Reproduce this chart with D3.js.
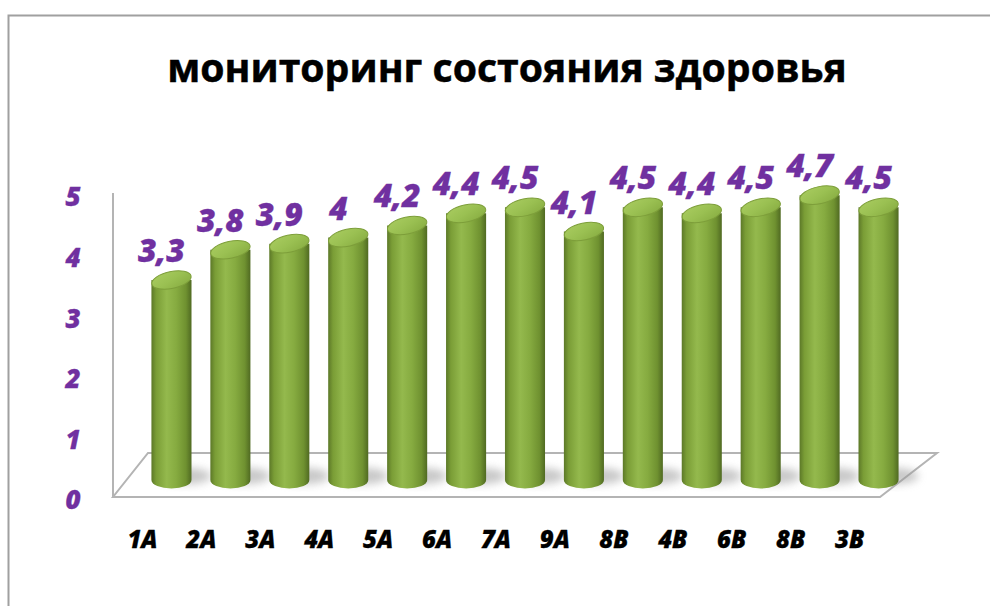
<!DOCTYPE html>
<html>
<head>
<meta charset="utf-8">
<script src="https://cdn.jsdelivr.net/npm/d3@7"></script>
<style>
  body { margin: 0; background: #fff; }
  text { font-family: "Open Sans", sans-serif; }
</style>
</head>
<body>
<div class="chart"></div>
<script>
const categories = ["1А", "2А", "3А", "4А", "5А", "6А", "7А", "9А", "8В", "4В", "6В", "8В", "3В"];
const values = [3.3, 3.8, 3.9, 4, 4.2, 4.4, 4.5, 4.1, 4.5, 4.4, 4.5, 4.7, 4.5];
const yTicks = [0, 1, 2, 3, 4, 5];
const titleText = "мониторинг состояния здоровья";

const width = 990, height = 606;
const purple = "#7030a0";

const svg = d3.select(".chart").append("svg")
    .attr("width", width)
    .attr("height", height);

const defs = svg.append("defs");

const body = defs.append("linearGradient").attr("id", "cyl").attr("x1", 0).attr("x2", 1).attr("y1", 0).attr("y2", 0);
[[0, "#5c7828"], [0.12, "#7a9d36"], [0.38, "#94b94d"], [0.62, "#86ab40"], [0.86, "#6f9130"], [1, "#506a22"]]
    .forEach(([o, c]) => body.append("stop").attr("offset", o).attr("stop-color", c));

const cap = defs.append("linearGradient").attr("id", "cap").attr("x1", 0).attr("x2", 1).attr("y1", 0).attr("y2", 1);
[[0, "#a9cc60"], [0.5, "#9ac052"], [1, "#86ab40"]]
    .forEach(([o, c]) => cap.append("stop").attr("offset", o).attr("stop-color", c));

defs.append("filter").attr("id", "blur").attr("x", "-50%").attr("y", "-50%").attr("width", "200%").attr("height", "200%")
    .append("feGaussianBlur").attr("stdDeviation", 4);

// outer border
svg.append("path")
    .attr("d", "M8.5,610 V15.5 H995")
    .attr("fill", "none")
    .attr("stroke", "#a0a0a0")
    .attr("stroke-width", 2);

// title
const title = svg.append("text")
    .attr("x", 507)
    .attr("y", 82)
    .attr("text-anchor", "middle")
    .attr("font-weight", 700)
    .attr("font-size", 36)
    .attr("fill", "#000")
    .attr("stroke", "#000")
    .attr("stroke-width", 0.5)
    .text(titleText);
const tl = title.node().getComputedTextLength();
title.attr("font-size", 36 * 680 / tl);

// index based band scale (category names repeat: 8В twice)
const xScale = d3.scaleBand()
    .domain(d3.range(categories.length))
    .range([142, 908])
    .paddingInner(0.32)
    .paddingOuter(0.16);

// front plane scale (tick labels)
const yScale = d3.scaleLinear()
    .domain([0, 5])
    .range([500, 197]);

const depthY = -20;
const labelDx = -29;

// floor
svg.append("path")
    .attr("d", "M113,497 L880,497 L937,453 L148,453 Z")
    .attr("fill", "#fff")
    .attr("stroke", "#b4b4b4")
    .attr("stroke-width", 2);

// left axis line
svg.append("line")
    .attr("x1", 113).attr("x2", 113)
    .attr("y1", 193).attr("y2", 497)
    .attr("stroke", "#b4b4b4")
    .attr("stroke-width", 2);

// y tick labels
svg.append("g")
    .selectAll("text")
    .data(yTicks)
    .join("text")
    .attr("x", 73)
    .attr("y", d => yScale(d))
    .attr("dy", "0.36em")
    .attr("text-anchor", "middle")
    .attr("font-weight", 800)
    .attr("font-style", "italic")
    .attr("font-size", 26)
    .attr("fill", purple)
    .attr("stroke", purple)
    .attr("stroke-width", 0.3)
    .text(d => d);

const bw = xScale.bandwidth();
const rx = bw / 2, ry = 8.5, tilt = -12;
const baseY = yScale(0) + depthY;

const bars = svg.append("g")
    .selectAll("g")
    .data(values)
    .join("g")
    .attr("transform", (d, i) => `translate(${xScale(i) + bw / 2},0)`);

// shadow on floor
bars.append("ellipse")
    .attr("cx", 14)
    .attr("cy", baseY - 4)
    .attr("rx", rx + 6)
    .attr("ry", 8)
    .attr("fill", "#9a9a9a")
    .attr("opacity", 0.55)
    .attr("filter", "url(#blur)");

bars.append("path")
    .attr("d", d => {
        const top = yScale(d) + depthY;
        return `M${-rx},${top} L${-rx},${baseY} A${rx},${ry} 0 0 0 ${rx},${baseY} L${rx},${top} Z`;
    })
    .attr("fill", "url(#cyl)");

bars.append("ellipse")
    .attr("cx", 0)
    .attr("cy", 0)
    .attr("rx", rx)
    .attr("ry", ry)
    .attr("transform", d => `translate(0,${yScale(d) + depthY}) rotate(${tilt})`)
    .attr("fill", "url(#cap)")
    .attr("stroke", "#7d9e3a")
    .attr("stroke-width", 1);

// value labels
bars.append("text")
    .attr("x", -10)
    .attr("y", d => yScale(d) + depthY - 18)
    .attr("text-anchor", "middle")
    .attr("font-weight", 800)
    .attr("font-style", "italic")
    .attr("font-size", 32)
    .attr("fill", purple)
    .attr("stroke", purple)
    .attr("stroke-width", 0.3)
    .text(d => String(d).replace(".", ","));

// category labels
svg.append("g")
    .selectAll("text")
    .data(categories)
    .join("text")
    .attr("x", (d, i) => xScale(i) + bw / 2 + labelDx)
    .attr("y", 548)
    .attr("text-anchor", "middle")
    .attr("font-weight", 800)
    .attr("font-style", "italic")
    .attr("font-size", 24)
    .attr("fill", "#000")
    .attr("stroke", "#000")
    .attr("stroke-width", 0.3)
    .text(d => d);
</script>
</body>
</html>
